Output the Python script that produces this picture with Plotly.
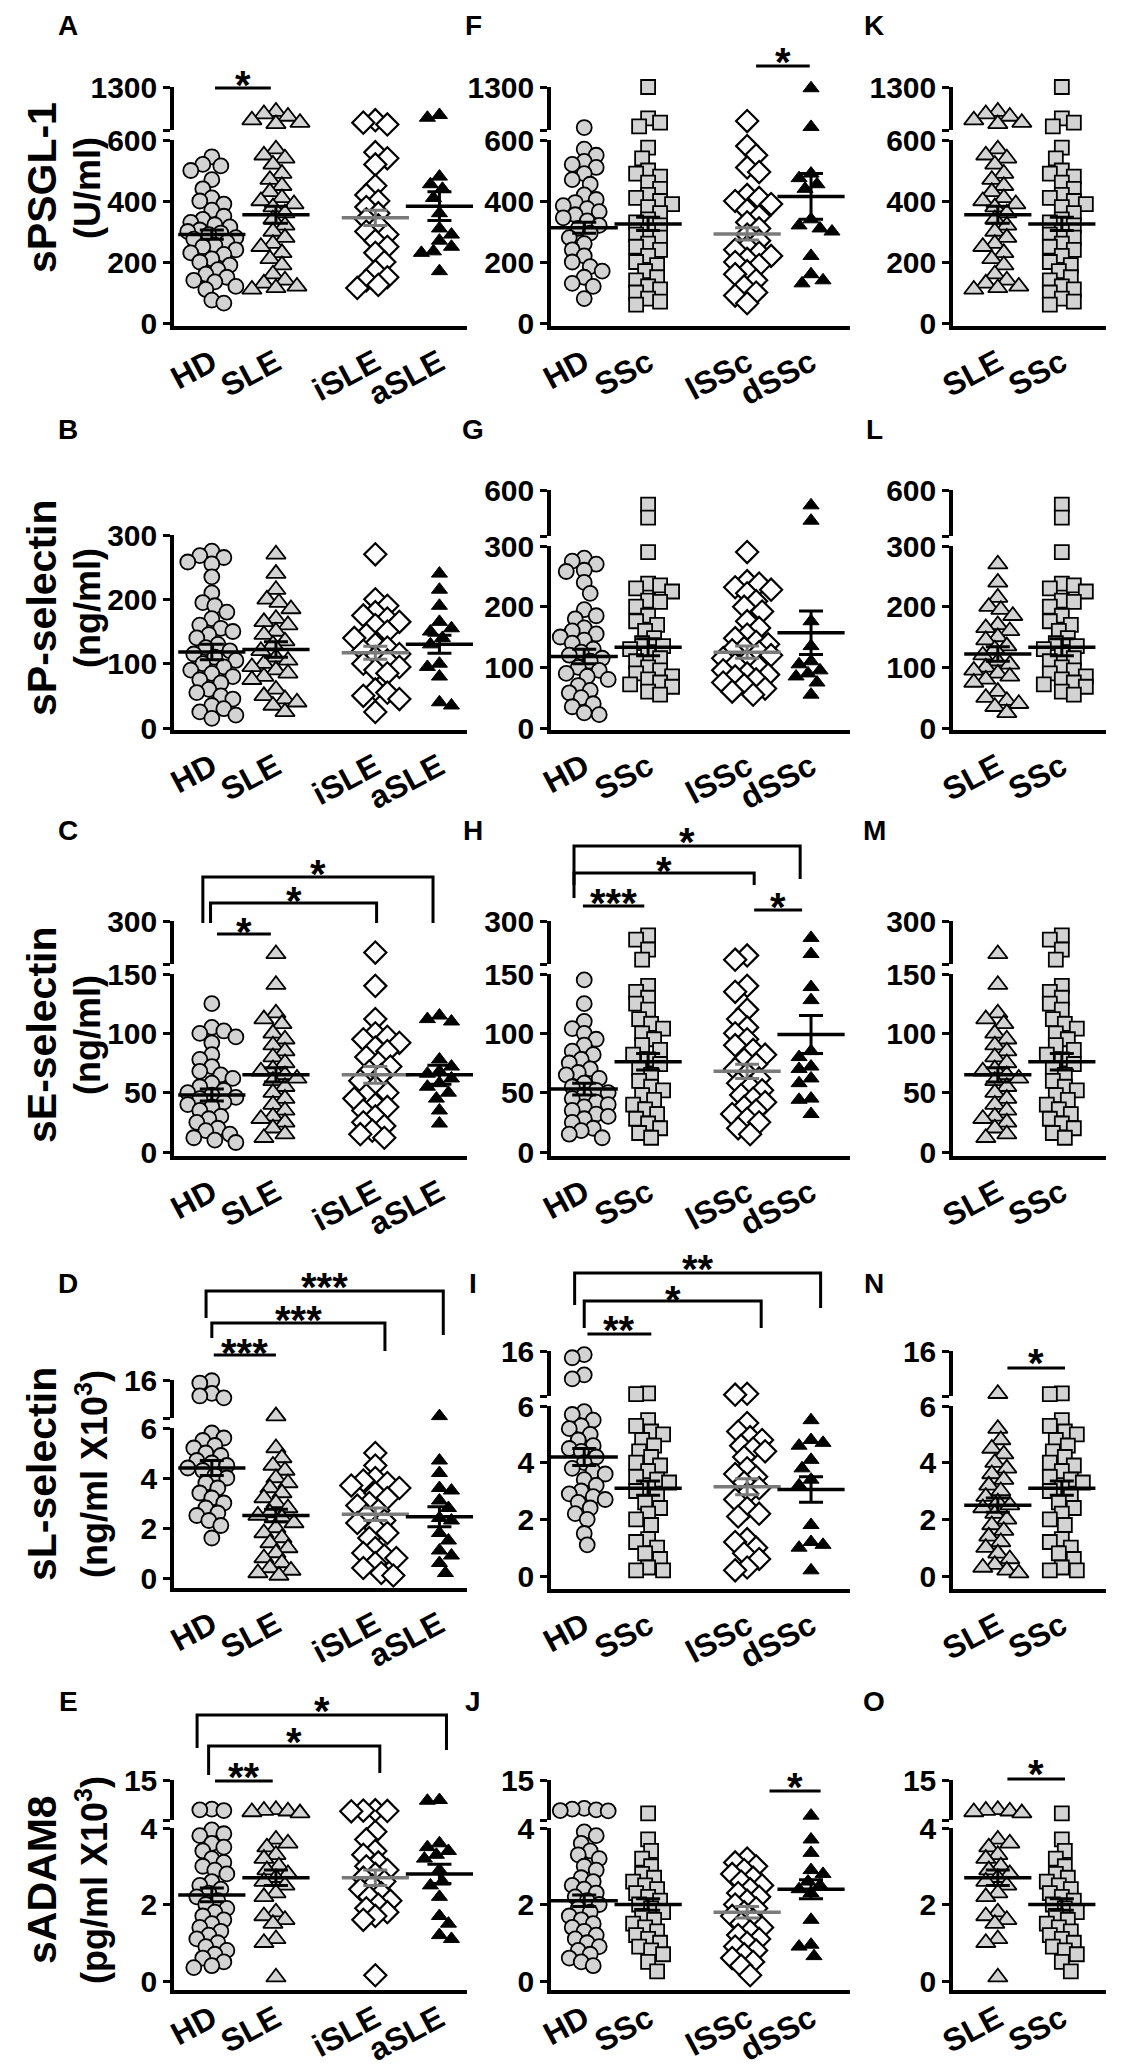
import plotly.graph_objects as go

W, H = 1122, 2064
FONT = "Liberation Sans, Arial, sans-serif"

# ---------------- categories ----------------
cats_sle = ["HD", "SLE", "iSLE", "aSLE"]
cats_ssc = ["HD", "SSc", "lSSc", "dSSc"]
cats_cmp = ["SLE", "SSc"]

# ---------------- sPSGL-1 (U/ml) ----------------
psgl_hd1 = [545, 520, 515, 500, 470, 440, 410, 400, 390, 370, 350, 340, 330, 322, 315, 305, 300, 295, 290, 280,
            275, 265, 255, 250, 240, 230, 225, 210, 200, 190, 175, 160, 150, 140, 135, 120, 110, 75, 65]
psgl_sle = [900, 860, 820, 760, 720, 700, 570, 550, 540, 520, 490, 470, 450, 430, 410, 400, 390, 380, 360, 340,
            320, 300, 280, 260, 250, 230, 210, 190, 160, 140, 130, 120, 115, 110]
psgl_isle = [760, 720, 690, 560, 540, 520, 450, 420, 400, 380, 360, 340, 320, 300, 290, 270, 250, 230, 200, 170,
             150, 140, 125, 115]
psgl_asle = [845, 800, 480, 455, 440, 410, 360, 310, 290, 270, 250, 235, 230, 170]
psgl_hd2 = [640, 570, 550, 530, 520, 510, 490, 470, 455, 420, 405, 395, 385, 375, 365, 355, 345, 335, 320, 310,
            295, 280, 260, 240, 220, 200, 185, 170, 150, 130, 120, 80]
psgl_ssc = [1300, 790, 720, 660, 575, 540, 500, 490, 480, 460, 440, 420, 410, 400, 390, 380, 360, 340, 330, 320,
            300, 290, 280, 260, 250, 240, 220, 200, 190, 170, 150, 140, 120, 110, 100, 80, 70, 60]
psgl_lssc = [745, 580, 550, 510, 495, 420, 410, 400, 390, 370, 350, 330, 310, 290, 270, 250, 240, 230, 220, 210,
             200, 190, 170, 160, 140, 120, 100, 90, 65]
psgl_dssc = [1280, 650, 490, 475, 455, 440, 340, 320, 310, 300, 220, 160, 140, 130]
psgl_mean1, psgl_sem1 = [290, 355, 345, 383], [15, 28, 25, 47]
psgl_mean2, psgl_sem2 = [312, 325, 292, 415], [18, 22, 20, 75]

# ---------------- sP-selectin (ng/ml) ----------------
psel_hd1 = [275, 268, 265, 258, 255, 235, 210, 195, 190, 180, 170, 160, 155, 150, 145, 140, 130, 125, 120, 115,
            110, 105, 100, 95, 90, 85, 80, 75, 70, 60, 55, 50, 45, 35, 30, 25, 20, 15]
psel_sle = [270, 240, 215, 200, 195, 185, 170, 165, 160, 150, 145, 135, 130, 120, 110, 105, 100, 95, 90, 85,
            80, 75, 60, 50, 45, 40, 35, 25]
psel_isle = [270, 200, 190, 180, 175, 170, 165, 160, 150, 145, 140, 130, 125, 120, 115, 110, 105, 100, 95, 90,
             85, 60, 55, 50, 45, 25]
psel_asle = [240, 215, 190, 165, 155, 150, 140, 130, 100, 95, 80, 40, 35]
psel_hd2 = [280, 275, 270, 260, 258, 240, 222, 195, 185, 180, 165, 160, 155, 150, 145, 140, 130, 125, 120, 115,
            110, 100, 95, 90, 85, 80, 70, 62, 58, 50, 40, 35, 25, 22]
psel_ssc = [505, 420, 290, 238, 235, 230, 225, 210, 208, 200, 185, 176, 170, 160, 148, 140, 135, 130, 121, 115,
            110, 100, 95, 90, 85, 80, 75, 72, 68, 60, 55]
psel_lssc = [290, 242, 238, 232, 228, 222, 209, 200, 192, 176, 165, 154, 148, 142, 138, 132, 128, 125, 120, 115,
             110, 105, 100, 95, 90, 88, 85, 80, 75, 71, 65, 60, 55]
psel_dssc = [500, 400, 176, 135, 110, 105, 95, 90, 85, 75, 55]
psel_mean1, psel_sem1 = [118, 122, 117, 130], [12, 12, 10, 14]
psel_mean2, psel_sem2 = [118, 133, 125, 157], [12, 14, 10, 36]

# ---------------- sE-selectin (ng/ml) ----------------
esel_hd1 = [125, 105, 102, 100, 97, 92, 82, 78, 72, 68, 65, 62, 58, 55, 52, 50, 48, 46, 45, 42,
            40, 38, 35, 30, 28, 25, 20, 18, 15, 12, 10, 8]
esel_sle = [185, 141, 117, 112, 108, 100, 95, 90, 85, 80, 75, 70, 68, 65, 62, 60, 55, 50, 45, 40,
            35, 30, 28, 25, 20, 15, 12]
esel_isle = [190, 140, 112, 100, 97, 95, 92, 88, 85, 80, 75, 72, 68, 65, 60, 55, 50, 48, 45, 40,
             38, 35, 30, 25, 22, 18, 15, 12]
esel_asle = [115, 112, 110, 78, 72, 68, 66, 62, 58, 55, 50, 45, 35, 24]
esel_hd2 = [145, 125, 110, 104, 100, 95, 90, 85, 82, 78, 75, 70, 67, 65, 62, 58, 55, 52, 50, 48,
            45, 42, 40, 38, 35, 32, 30, 28, 25, 20, 18, 15, 12]
esel_ssc = [250, 235, 200, 165, 140, 135, 130, 125, 120, 112, 108, 104, 100, 95, 90, 86, 82, 78, 74, 70,
            65, 60, 55, 52, 48, 44, 40, 36, 32, 28, 24, 20, 16, 12]
esel_lssc = [180, 165, 140, 135, 120, 112, 105, 100, 95, 90, 86, 82, 78, 74, 70, 66, 62, 58, 55, 52,
             48, 45, 42, 38, 35, 32, 28, 25, 20, 15]
esel_dssc = [241, 185, 139, 128, 85, 80, 72, 70, 62, 58, 45, 44, 32]
esel_mean1, esel_sem1 = [48, 65, 65, 65], [5, 6, 7, 8]
esel_mean2, esel_sem2 = [53, 76, 68, 99], [5, 7, 6, 16]

# ---------------- sL-selectin (ng/ml x10^3) ----------------
lsel_hd1 = [15.8, 15.2, 12.5, 11.8, 11.3, 5.8, 5.6, 5.5, 5.3, 5.2, 5.0, 4.9, 4.7, 4.6, 4.5, 4.4, 4.3, 4.1, 4.0,
            3.8, 3.6, 3.4, 3.2, 3.0, 2.8, 2.6, 2.5, 2.3, 2.1, 1.6]
lsel_sle = [6.5, 5.2, 4.8, 4.5, 4.3, 4.0, 3.8, 3.6, 3.4, 3.2, 3.0, 2.8, 2.6, 2.5, 2.4, 2.2, 2.0, 1.8, 1.6,
            1.4, 1.2, 1.0, 0.8, 0.6, 0.4, 0.3, 0.2, 0.1]
lsel_isle = [5.0, 4.5, 4.0, 3.9, 3.8, 3.7, 3.6, 3.4, 3.2, 3.0, 2.9, 2.7, 2.5, 2.3, 2.2, 2.0, 1.8, 1.6, 1.2,
             1.0, 0.9, 0.8, 0.6, 0.4, 0.2, 0.1]
lsel_asle = [6.5, 4.7, 4.2, 3.6, 3.5, 3.1, 2.8, 2.4, 2.3, 1.8, 1.5, 1.1, 0.9, 0.6, 0.2]
lsel_hd2 = [15.2, 14.5, 10.7, 9.8, 5.8, 5.7, 5.5, 5.3, 5.2, 5.0, 4.8, 4.6, 4.5, 4.4, 4.2, 4.0, 3.8, 3.7, 3.6,
            3.4, 3.2, 3.0, 2.9, 2.8, 2.7, 2.6, 2.4, 2.2, 2.0, 1.5, 1.1]
lsel_ssc = [6.6, 6.4, 5.5, 5.3, 5.1, 5.0, 4.8, 4.6, 4.4, 4.2, 4.0, 3.9, 3.7, 3.5, 3.4, 3.3, 3.1, 3.0, 2.8,
            2.6, 2.4, 2.2, 2.0, 1.8, 1.3, 1.2, 1.0, 0.8, 0.6, 0.3, 0.2, 0.2]
lsel_lssc = [6.5, 6.3, 5.4, 5.1, 4.9, 4.8, 4.6, 4.5, 4.4, 4.2, 3.8, 3.6, 3.5, 3.3, 3.1, 2.9, 2.7, 2.4, 2.2,
             2.1, 1.3, 1.2, 1.0, 0.8, 0.6, 0.3, 0.2]
lsel_dssc = [5.5, 4.8, 4.7, 4.6, 4.1, 3.8, 3.4, 3.2, 1.8, 1.2, 1.1, 1.0, 0.2]
lsel_mean1, lsel_sem1 = [4.4, 2.5, 2.55, 2.45], [0.3, 0.25, 0.25, 0.4]
lsel_mean2, lsel_sem2 = [4.2, 3.1, 3.15, 3.05], [0.3, 0.25, 0.28, 0.45]

# ---------------- sADAM8 (pg/ml x10^3) ----------------
adam_hd1 = [7.0, 6.8, 6.6, 3.95, 3.85, 3.8, 3.6, 3.5, 3.4, 3.2, 3.1, 3.0, 2.9, 2.8, 2.6, 2.5, 2.4, 2.3, 2.2,
            2.1, 2.0, 1.9, 1.8, 1.7, 1.6, 1.5, 1.4, 1.3, 1.2, 1.1, 1.0, 0.9, 0.8, 0.7, 0.6, 0.5, 0.4, 0.35]
adam_sle = [6.8, 6.6, 6.4, 6.2, 5.9, 3.7, 3.6, 3.5, 3.3, 3.2, 3.0, 2.9, 2.8, 2.7, 2.6, 2.5, 2.3, 2.2, 1.8,
            1.7, 1.6, 1.5, 1.1, 1.0, 0.1]
adam_isle = [6.7, 6.6, 6.5, 6.4, 3.9, 3.7, 3.4, 3.3, 3.1, 3.0, 2.9, 2.8, 2.7, 2.6, 2.5, 2.4, 2.3, 2.2, 2.1,
             2.0, 1.9, 1.8, 1.7, 1.6, 0.15]
adam_asle = [9.5, 9.3, 3.6, 3.5, 3.4, 3.3, 3.2, 2.9, 2.6, 2.5, 2.2, 1.7, 1.5, 1.2, 1.1]
adam_hd2 = [7.2, 7.0, 6.8, 6.6, 6.5, 3.9, 3.8, 3.6, 3.4, 3.3, 3.2, 3.0, 2.9, 2.7, 2.6, 2.5, 2.4, 2.3, 2.2,
            2.1, 2.0, 1.9, 1.8, 1.7, 1.6, 1.5, 1.4, 1.3, 1.2, 1.1, 1.0, 0.9, 0.8, 0.7, 0.6, 0.5, 0.4]
adam_ssc = [5.8, 3.7, 3.4, 3.2, 3.0, 2.8, 2.7, 2.6, 2.5, 2.4, 2.3, 2.2, 2.1, 2.0, 1.9, 1.8, 1.7, 1.6, 1.5,
            1.4, 1.3, 1.2, 1.1, 1.0, 0.9, 0.8, 0.7, 0.5, 0.25]
adam_lssc = [3.2, 3.1, 3.0, 2.9, 2.8, 2.7, 2.6, 2.5, 2.4, 2.3, 2.2, 2.1, 2.0, 1.9, 1.8, 1.7, 1.6, 1.5, 1.4,
             1.3, 1.2, 1.1, 1.0, 0.9, 0.8, 0.7, 0.6, 0.5, 0.4, 0.15]
adam_dssc = [5.2, 3.7, 3.35, 2.9, 2.8, 2.6, 2.5, 2.4, 2.3, 1.6, 0.95, 0.9, 0.65]
adam_mean1, adam_sem1 = [2.25, 2.7, 2.7, 2.8], [0.18, 0.2, 0.2, 0.25]
adam_mean2, adam_sem2 = [2.1, 2.0, 1.8, 2.4], [0.15, 0.15, 0.15, 0.25]

# ---------------- marker styles ----------------
GRAY = "#d3d3d3"
STYLE = {
    "HD": dict(symbol="circle", size=15, color=GRAY, line=dict(color="black", width=1.8)),
    "SLE": dict(symbol="triangle-up", size=17, color=GRAY, line=dict(color="black", width=1.8)),
    "iSLE": dict(symbol="diamond", size=17, color="white", line=dict(color="black", width=2.2)),
    "aSLE": dict(symbol="triangle-up", size=14, color="black", line=dict(color="black", width=1)),
    "SSc": dict(symbol="square", size=14, color=GRAY, line=dict(color="black", width=1.8)),
    "lSSc": dict(symbol="diamond", size=17, color="white", line=dict(color="black", width=2.2)),
    "dSSc": dict(symbol="triangle-up", size=14, color="black", line=dict(color="black", width=1)),
}
MEAN_COLOR = {"iSLE": "#7a7a7a", "lSSc": "#7a7a7a"}

# ---------------- layout geometry (pixels) ----------------
COL_PX = [(166, 459), (543, 842), (945, 1098)]
COL_RANGE = [(-0.59, 3.98), (-0.52, 4.16), (-0.70, 1.69)]
X_PER_UNIT = 64.0
POS4 = [0, 1, 2.55, 3.55]
POS2 = [0, 1]

# (upper top, upper bottom, lower top, zero, x-axis line)
GEOM = {
    "A": [(79, 122, 132, 315, 318)] * 3,
    "B": [(483, 518, 527, 720, 722), (482, 528, 538, 720, 722), (482, 528, 538, 720, 722)],
    "C": [(913, 956, 966, 1144, 1148)] * 3,
    "D": [(1372, 1410, 1420, 1570, 1580), (1343, 1388, 1398, 1568, 1581), (1343, 1388, 1398, 1568, 1581)],
    "E": [(1772, 1812, 1820, 1973, 1982)] * 3,
}

ROWS = [
    dict(key="A", letters="AFK", title="sPSGL-1", unit="(U/ml)", ticks=[0, 200, 400, 600], top=1300, ty=180,
         groups=[[psgl_hd1, psgl_sle, psgl_isle, psgl_asle], [psgl_hd2, psgl_ssc, psgl_lssc, psgl_dssc],
                 [psgl_sle, psgl_ssc]],
         means=[psgl_mean1, psgl_mean2, [psgl_mean1[1], psgl_mean2[1]]],
         sems=[psgl_sem1, psgl_sem2, [psgl_sem1[1], psgl_sem2[1]]]),
    dict(key="B", letters="BGL", title="sP-selectin", unit="(ng/ml)", ticks=[0, 100, 200, 300], top=600, ty=600,
         groups=[[psel_hd1, psel_sle, psel_isle, psel_asle], [psel_hd2, psel_ssc, psel_lssc, psel_dssc],
                 [psel_sle, psel_ssc]],
         means=[psel_mean1, psel_mean2, [psel_mean1[1], psel_mean2[1]]],
         sems=[psel_sem1, psel_sem2, [psel_sem1[1], psel_sem2[1]]]),
    dict(key="C", letters="CHM", title="sE-selectin", unit="(ng/ml)", ticks=[0, 50, 100, 150], top=300, ty=1027,
         groups=[[esel_hd1, esel_sle, esel_isle, esel_asle], [esel_hd2, esel_ssc, esel_lssc, esel_dssc],
                 [esel_sle, esel_ssc]],
         means=[esel_mean1, esel_mean2, [esel_mean1[1], esel_mean2[1]]],
         sems=[esel_sem1, esel_sem2, [esel_sem1[1], esel_sem2[1]]]),
    dict(key="D", letters="DIN", title="sL-selectin", unit="(ng/ml X10<sup>3</sup>)", ticks=[0, 2, 4, 6], top=16,
         ty=1466,
         groups=[[lsel_hd1, lsel_sle, lsel_isle, lsel_asle], [lsel_hd2, lsel_ssc, lsel_lssc, lsel_dssc],
                 [lsel_sle, lsel_ssc]],
         means=[lsel_mean1, lsel_mean2, [lsel_mean1[1], lsel_mean2[1]]],
         sems=[lsel_sem1, lsel_sem2, [lsel_sem1[1], lsel_sem2[1]]]),
    dict(key="E", letters="EJO", title="sADAM8", unit="(pg/ml X10<sup>3</sup>)", ticks=[0, 2, 4], top=15, ty=1872,
         groups=[[adam_hd1, adam_sle, adam_isle, adam_asle], [adam_hd2, adam_ssc, adam_lssc, adam_dssc],
                 [adam_sle, adam_ssc]],
         means=[adam_mean1, adam_mean2, [adam_mean1[1], adam_mean2[1]]],
         sems=[adam_sem1, adam_sem2, [adam_sem1[1], adam_sem2[1]]]),
]
LETTER_Y = {"A": 17, "B": 421, "C": 823, "D": 1275, "E": 1693}
LETTER_X = [60, 465, 866]
LABEL_STANDOFF = {"A": 2, "B": 2, "C": 2, "D": 2, "E": -6}

# significance brackets: (row, col, x1, x2, line_px, left_leg_px, right_leg_px, text, star_px)
BRACKETS = [
    ("A", 0, 0.05, 0.92, 80, None, None, "*", 66),
    ("A", 1, 2.69, 3.53, 58, None, None, "*", 43),
    ("C", 0, -0.14, 3.45, 869, 915, 915, "*", 855),
    ("C", 0, -0.02, 2.57, 895, 915, 915, "*", 882),
    ("C", 0, 0.08, 0.92, 926, None, None, "*", 913),
    ("C", 1, -0.16, 3.38, 838, 877, 871, "*", 823),
    ("C", 1, -0.16, 2.66, 865, 890, 877, "*", 852),
    ("C", 1, -0.02, 0.94, 898, None, None, "***", 884),
    ("C", 1, 2.66, 3.41, 902, None, None, "*", 888),
    ("D", 0, -0.09, 3.61, 1283, 1310, 1327, "***", 1268),
    ("D", 0, 0.0, 2.70, 1315, 1330, 1343, "***", 1301),
    ("D", 0, 0.03, 1.0, 1347, None, None, "***", 1334),
    ("D", 1, -0.15, 3.70, 1265, 1297, 1300, "**", 1250),
    ("D", 1, 0.0, 2.77, 1293, 1320, 1320, "*", 1281),
    ("D", 1, 0.05, 1.05, 1326, None, None, "**", 1311),
    ("D", 2, 0.15, 1.05, 1360, None, None, "*", 1344),
    ("E", 0, -0.23, 3.66, 1707, 1740, 1742, "*", 1692),
    ("E", 0, -0.05, 2.62, 1738, 1767, 1765, "*", 1723),
    ("E", 0, 0.05, 0.95, 1773, None, None, "**", 1758),
    ("E", 1, 2.90, 3.70, 1783, None, None, "*", 1768),
    ("E", 2, 0.15, 1.05, 1771, None, None, "*", 1755),
]


def py(px):
    return 1 - px / H


def b(t):
    return f"<b>{t}</b>"


def val_px(v, g, lo_top, up_top):
    ut, ub, lt, zero, _ = g
    if v > lo_top:
        return ub - (v - lo_top) / (up_top - lo_top) * (ub - ut)
    return zero - v / lo_top * (zero - lt)


def swarm(ys, diam=11.5, step=3.0, limit=26.0):
    order = sorted(range(len(ys)), key=lambda i: ys[i])
    placed, offs = [], [0.0] * len(ys)
    for n, i in enumerate(order):
        y = ys[i]
        sgn = 1 if n % 2 == 0 else -1
        cands = [0.0]
        k = 1
        while k * step <= limit:
            cands += [sgn * k * step, -sgn * k * step]
            k += 1
        best, best_d, best_c = None, -1, 0.0
        for c in cands:
            d = min([((c - a) ** 2 + (y - q) ** 2) ** 0.5 for a, q in placed] or [1e9])
            if d >= diam:
                best = c
                break
            if d > best_d:
                best_d, best_c = d, c
        if best is None:
            best = best_c
        offs[i] = best
        placed.append((best, y))
    return offs


def ref(kind, i):
    return kind if i == 1 else f"{kind}{i}"


def lay(kind, i):
    return f"{kind}axis" if i == 1 else f"{kind}axis{i}"


fig = go.Figure()
layout = {}
annotations = []
shapes = []
tick_font = dict(family=FONT, size=30, color="black")
xtick_font = dict(family=FONT, size=32, color="black")

for r, row in enumerate(ROWS):
    lo_top = row["ticks"][-1]
    up_top = row["top"]
    for c in range(3):
        n = r * 3 + c + 1
        xi, yl, yu = n, 2 * n - 1, 2 * n
        g = GEOM[row["key"]][c]
        ut, ub, lt, zero, axis_px = g
        cats = [cats_sle, cats_ssc, cats_cmp][c]
        pos = POS2 if c == 2 else POS4
        x0, x1 = COL_PX[c]
        ppu = (zero - lt) / lo_top
        pad = (axis_px - zero) / ppu

        layout[lay("x", xi)] = dict(
            domain=[x0 / W, x1 / W], range=list(COL_RANGE[c]), anchor=ref("y", yl),
            showline=True, linewidth=3.5, linecolor="black", ticks="", showgrid=False, zeroline=False,
            tickmode="array", tickvals=pos, ticktext=[b(t) for t in cats], tickangle=-28, tickfont=xtick_font,
            ticklabelstandoff=LABEL_STANDOFF[row["key"]], automargin=False)
        layout[lay("y", yl)] = dict(
            domain=[py(axis_px), py(lt)], range=[-pad, lo_top], anchor=ref("x", xi),
            showline=True, linewidth=3.5, linecolor="black", ticks="outside", ticklen=7, tickwidth=3,
            tickcolor="black", tickmode="array", tickvals=row["ticks"], ticktext=[b(t) for t in row["ticks"]],
            tickfont=tick_font, showgrid=False, zeroline=False, automargin=False)
        layout[lay("y", yu)] = dict(
            domain=[py(ub), py(ut)], range=[lo_top, up_top], anchor=ref("x", xi),
            showline=True, linewidth=3.5, linecolor="black", ticks="outside", ticklen=7, tickwidth=3,
            tickcolor="black", tickmode="array", tickvals=[up_top], ticktext=[b(up_top)],
            minor=dict(tickmode="array", tickvals=[lo_top], ticks="outside", ticklen=7, tickwidth=3,
                       tickcolor="black"),
            tickfont=tick_font, showgrid=False, zeroline=False, automargin=False)

        for gi, (name, vals) in enumerate(zip(cats, row["groups"][c])):
            ys = [val_px(v, g, lo_top, up_top) for v in vals]
            offs = swarm(ys)
            st = STYLE[name]
            mk = dict(symbol=st["symbol"], size=st["size"], color=st["color"], line=st["line"])
            lo = [(pos[gi] + o / X_PER_UNIT, v) for o, v in zip(offs, vals) if v <= lo_top]
            hi = [(pos[gi] + o / X_PER_UNIT, v) for o, v in zip(offs, vals) if v > lo_top]
            for pts, yref in ((lo, yl), (hi, yu)):
                if pts:
                    fig.add_trace(go.Scatter(
                        x=[p[0] for p in pts], y=[p[1] for p in pts], mode="markers", marker=mk,
                        xaxis=ref("x", xi), yaxis=ref("y", yref), cliponaxis=False, showlegend=False,
                        hoverinfo="skip"))
        for gi, name in enumerate(cats):
            col = MEAN_COLOR.get(name, "black")
            fig.add_trace(go.Scatter(
                x=[pos[gi]], y=[row["means"][c][gi]], mode="markers",
                marker=dict(symbol="line-ew", size=48, line=dict(width=3.5, color=col)),
                error_y=dict(type="data", array=[row["sems"][c][gi]], color=col, thickness=3, width=12),
                xaxis=ref("x", xi), yaxis=ref("y", yl), cliponaxis=False, showlegend=False, hoverinfo="skip"))

        annotations.append(dict(
            x=LETTER_X[c] / W, y=py(LETTER_Y[row["key"]]), xref="paper", yref="paper", text=b(row["letters"][c]),
            showarrow=False, xanchor="center", yanchor="middle",
            font=dict(family=FONT, size=28, color="black")))

    annotations.append(dict(
        x=34 / W, y=py(row["ty"]), xref="paper", yref="paper", text=b(row["title"]), textangle=-90,
        showarrow=False, xanchor="center", yanchor="middle",
        font=dict(family=FONT, size=41, color="black")))
    annotations.append(dict(
        x=(84 if row["key"] in "DE" else 79) / W, y=py(row["ty"]), xref="paper", yref="paper",
        text=b(row["unit"]), textangle=-90, showarrow=False, xanchor="center", yanchor="middle",
        font=dict(family=FONT, size=36, color="black")))

row_index = {row["key"]: i for i, row in enumerate(ROWS)}
for rk, c, bx1, bx2, line_px, l_leg, r_leg, txt, star_px in BRACKETS:
    xr = ref("x", row_index[rk] * 3 + c + 1)
    if l_leg is None:
        path = f"M {bx1},{py(line_px)} L {bx2},{py(line_px)}"
    else:
        path = (f"M {bx1},{py(l_leg)} L {bx1},{py(line_px)} L {bx2},{py(line_px)} "
                f"L {bx2},{py(r_leg)}")
    shapes.append(dict(type="path", path=path, xref=xr, yref="paper",
                       line=dict(color="black", width=3)))
    annotations.append(dict(
        x=(bx1 + bx2) / 2, y=py(star_px + 11), xref=xr, yref="paper", text=b(txt), showarrow=False,
        xanchor="center", yanchor="middle", font=dict(family=FONT, size=40, color="black")))

fig.update_layout(
    width=W, height=H, margin=dict(l=0, r=0, t=0, b=0), paper_bgcolor="white", plot_bgcolor="white",
    showlegend=False, annotations=annotations, shapes=shapes, **layout)

fig.write_html("out.html")
